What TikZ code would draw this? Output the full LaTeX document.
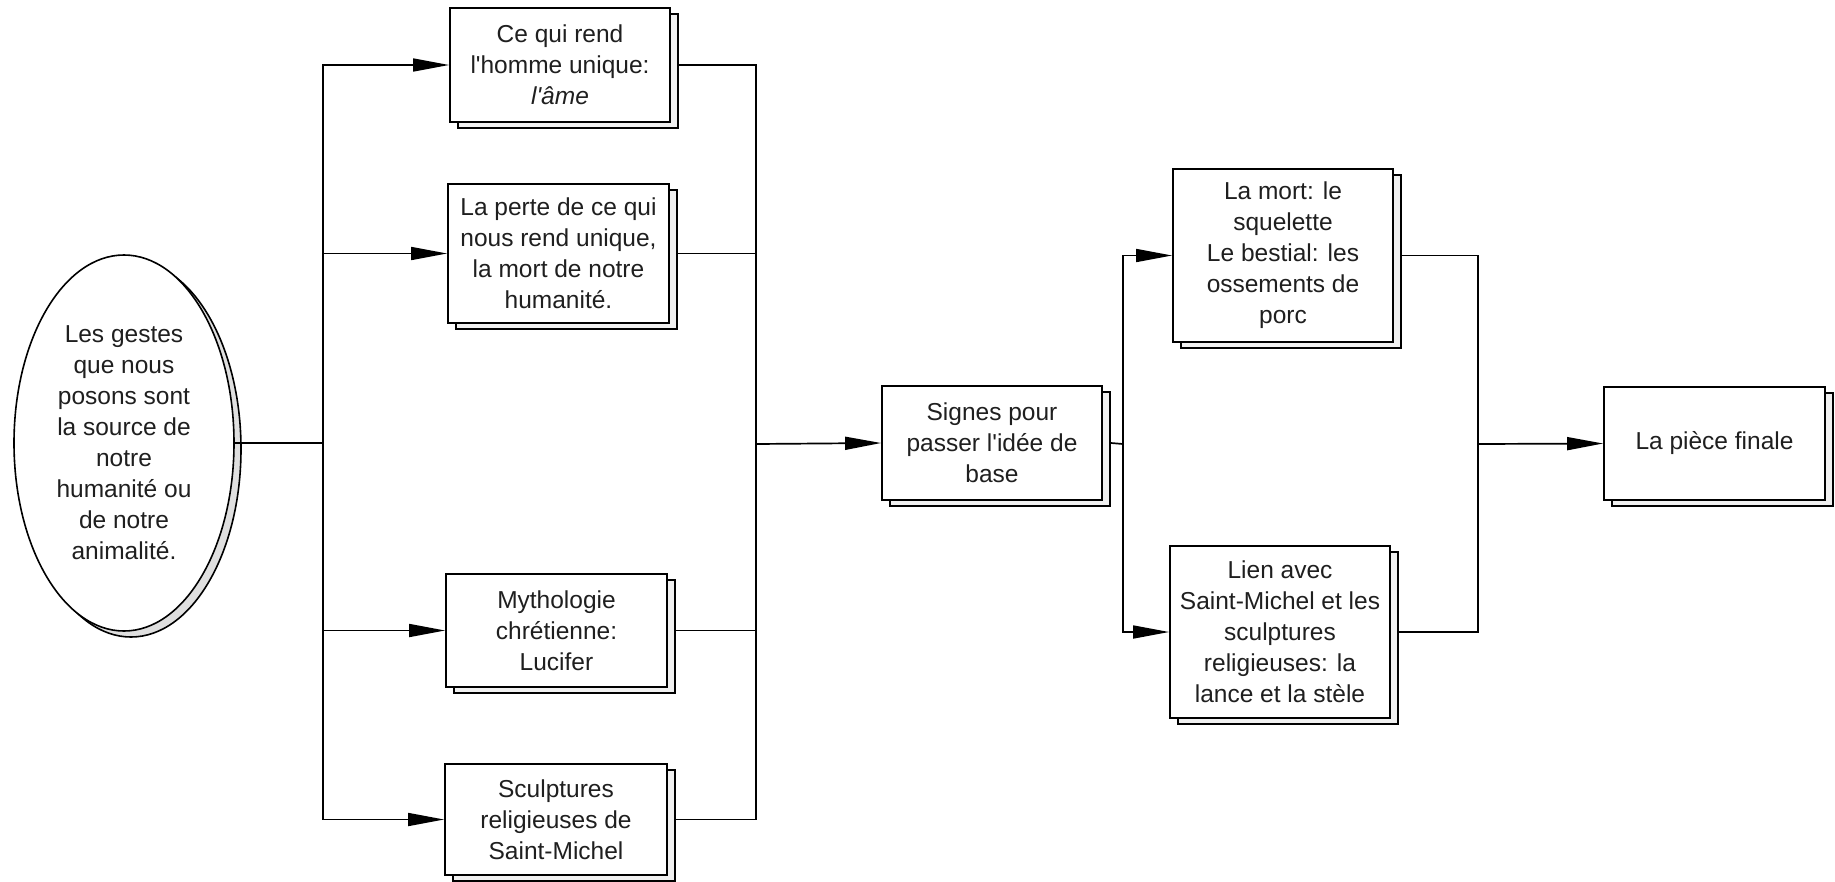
\documentclass[tikz,border=0pt]{standalone}
\usepackage{fontspec}
\setmainfont{Liberation Sans}[Ligatures=TeXOff]
\usetikzlibrary{arrows.meta,shapes.geometric,shadows}
\begin{document}
\begin{tikzpicture}[x=1pt,y=-1pt,
  every node/.style={font=\fontsize{24.5}{31}\selectfont, text=black!88, align=center, inner sep=0pt},
  card/.style={draw=black, fill=white, line width=1.8pt, rectangle,
    copy shadow={shadow xshift=8pt, shadow yshift=-6pt, fill=gray!12, draw=black, line width=1.8pt}},
  oval/.style={draw=black, fill=white, line width=1.6pt, ellipse,
    copy shadow={shadow xshift=7pt, shadow yshift=-6pt, fill=gray!25, draw=black, line width=1.6pt}},
  link/.style={line width=1.7pt, draw=black},
  arr/.style={link, -{Triangle[length=36pt,width=13pt]}}]
\useasboundingbox (0,0) rectangle (1835,881);

% source
\node[oval, minimum width=220pt, minimum height=376pt] (E) at (124,443)
  {Les gestes\\que nous\\posons sont\\la source de\\notre\\humanité ou\\de notre\\animalité.};

% first column
\node[card, minimum width=220pt, minimum height=114pt] (B1) at (560,65)
  {Ce qui rend\\l'homme unique:\\\textit{l'âme}};
\node[card, minimum width=221pt, minimum height=139pt] (B2) at (558.5,253.5)
  {La perte de ce qui\\nous rend unique,\\la mort de notre\\humanité.};
\node[card, minimum width=221pt, minimum height=113pt] (B3) at (556.5,630.5)
  {Mythologie\\chrétienne:\\Lucifer};
\node[card, minimum width=222pt, minimum height=111pt] (B4) at (556,819.5)
  {Sculptures\\religieuses de\\Saint-Michel};

% middle
\node[card, minimum width=220pt, minimum height=114pt] (S) at (992,443)
  {Signes pour\\passer l'idée de\\base};

% second column
\node[card, minimum width=220pt, minimum height=173pt] (M) at (1283,255.5)
  {La mort: le\\squelette\\Le bestial: les\\ossements de\\porc};
\node[card, minimum width=220pt, minimum height=172pt] (L) at (1280,632)
  {Lien avec\\Saint-Michel et les\\sculptures\\religieuses: la\\lance et la stèle};

% result
\node[card, minimum width=221pt, minimum height=113pt] (F) at (1714.5,443.5)
  {La pièce finale};

% junction points
\coordinate (j1) at (323,443);
\coordinate (j2) at (756,444);
\coordinate (j3) at (1123,444);
\coordinate (j4) at (1478,444);

% connectors
\draw[link] (E.east) -- (j1);
\foreach \b in {B1,B2,B3,B4} {
  \draw[arr] (j1) |- (\b.west);
  \draw[link] ([xshift=8pt]\b.east) -| (j2);
}
\draw[arr] (j2) -- (S.west);
\draw[link] ([xshift=8pt]S.east) -- (j3);
\draw[arr] (j3) |- (M.west);
\draw[arr] (j3) |- (L.west);
\draw[link] ([xshift=8pt]M.east) -| (j4);
\draw[link] ([xshift=8pt]L.east) -| (j4);
\draw[arr] (j4) -- (F.west);
\end{tikzpicture}
\end{document}
